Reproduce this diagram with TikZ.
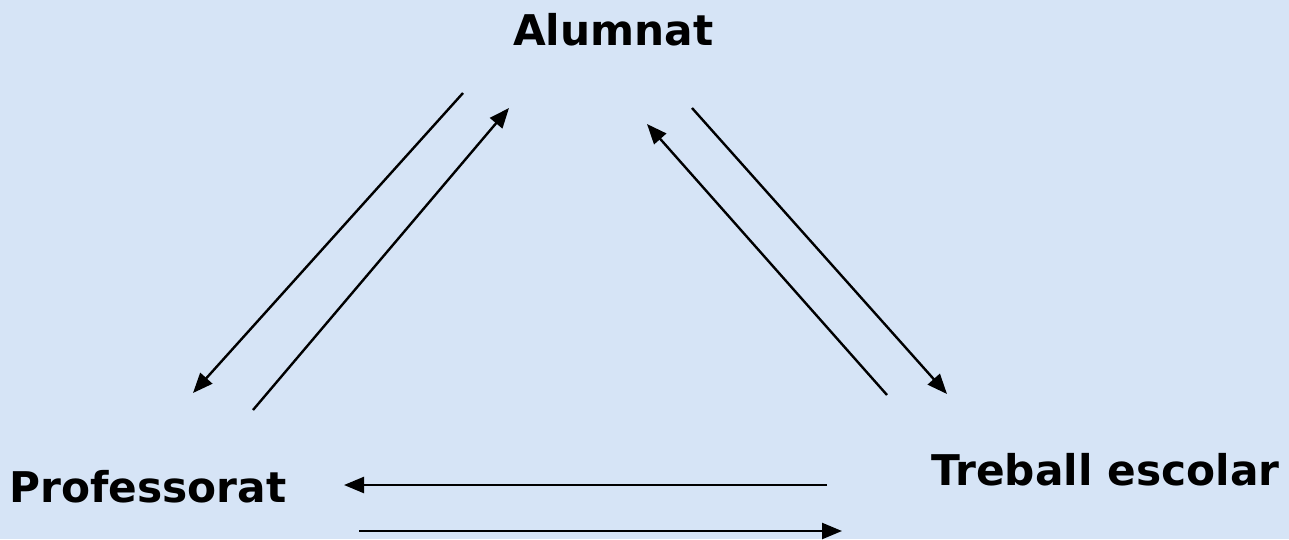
\documentclass[tikz,border=0pt]{standalone}
\usepackage{fontspec}
\setmainfont{DejaVu Sans}
\usetikzlibrary{arrows.meta}
\definecolor{bgblue}{RGB}{214,228,246}
\tikzset{
  lbl/.style={font=\bfseries\fontsize{42.3}{50}\selectfont, inner sep=0pt, text=black},
  conn/.style={line width=2.4pt, -{Triangle[length=20pt,width=16pt]}}
}
\begin{document}
\begin{tikzpicture}[x=1pt,y=-1pt]
\fill[bgblue] (0,0) rectangle (1289,539);
\useasboundingbox (0,0) rectangle (1289,539);
\node[lbl, anchor=base west] (alum) at (513,45) {Alumnat};
\node[lbl, anchor=base west] (prof) at (9,502) {Professorat};
\node[lbl, anchor=base west] (treb) at (931,485) {Treball escolar};
\coordinate (a1s) at (463,93);  \coordinate (a1e) at (193,393);
\coordinate (a2s) at (253,410); \coordinate (a2e) at (509,108);
\coordinate (a3s) at (692,108); \coordinate (a3e) at (947,394);
\coordinate (a4s) at (887,395); \coordinate (a4e) at (647,124);
\coordinate (b1s) at (827,485); \coordinate (b1e) at (344,485);
\coordinate (b2s) at (359,531); \coordinate (b2e) at (842,531);
\draw[conn] (a1s) -- (a1e);
\draw[conn] (a2s) -- (a2e);
\draw[conn] (a3s) -- (a3e);
\draw[conn] (a4s) -- (a4e);
\draw[conn] (b1s) -- (b1e);
\draw[conn] (b2s) -- (b2e);
\end{tikzpicture}
\end{document}
